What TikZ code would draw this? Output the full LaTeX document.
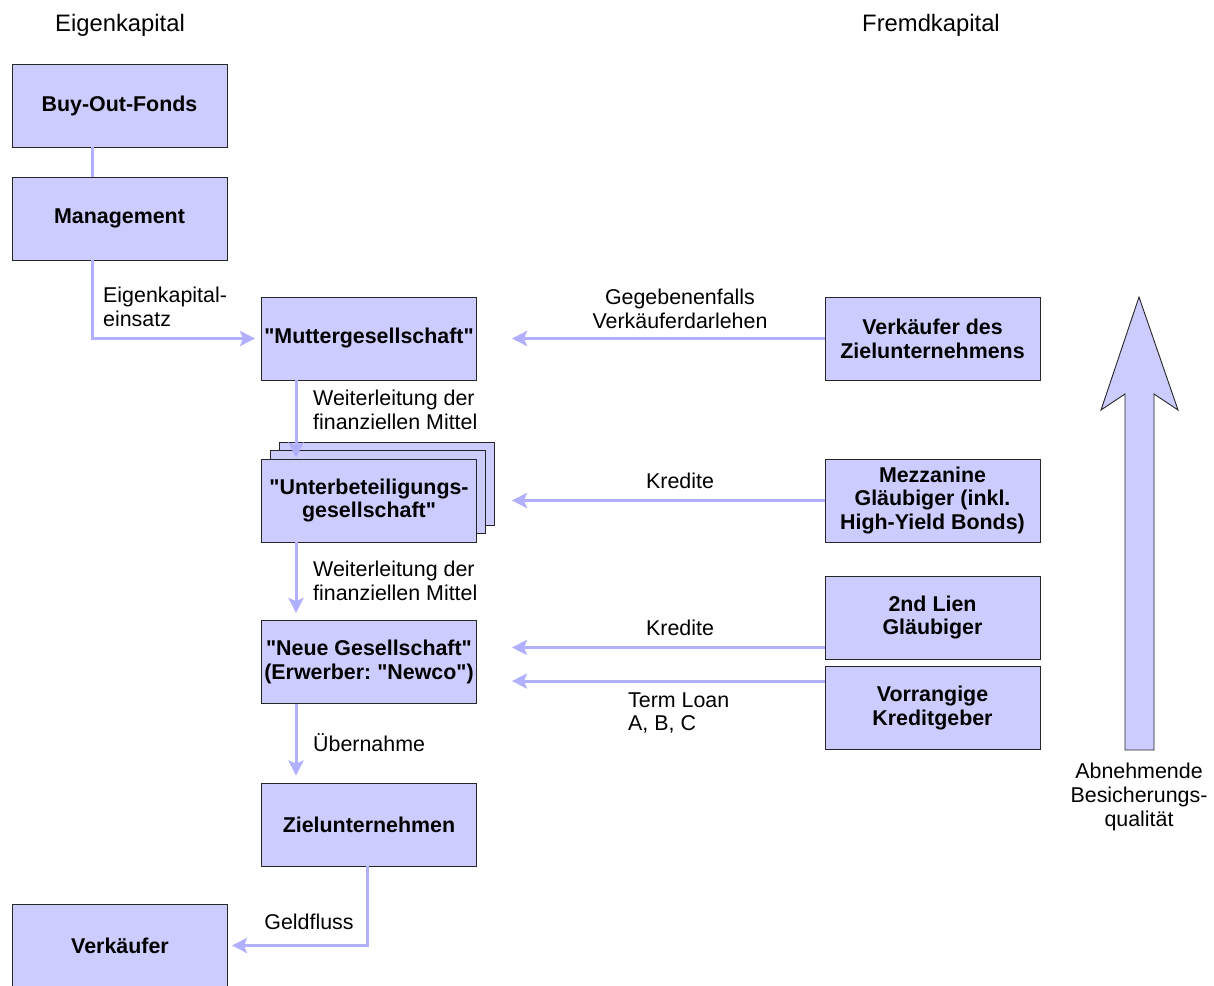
\documentclass[tikz,border=0pt]{standalone}
\usepackage{fontspec}
\setmainfont{Liberation Sans}
\usetikzlibrary{arrows.meta,positioning}

\definecolor{boxfill}{HTML}{CCCCFF}
\definecolor{flow}{HTML}{B0B0FF}
\newcommand{\qq}{\textquotedbl}

\tikzset{
  box/.style={draw=black!85,line width=.9pt,fill=boxfill,minimum width=215pt,
    minimum height=83pt,inner sep=0pt,align=center,font=\bfseries},
  link/.style={draw=flow,line width=3pt,-{Stealth[length=15pt,width=15pt,inset=3pt]}},
  plain/.style={draw=flow,line width=3pt},
  lbl/.style={inner sep=0pt,align=left,anchor=west},
  clbl/.style={inner sep=0pt,align=center},
  head/.style={inner sep=0pt,font=\fontsize{23.8}{28}\selectfont}
}

\begin{document}
\frenchspacing
\fontsize{21.4}{23.8}\selectfont
\begin{tikzpicture}[x=1pt,y=-1pt]
        \useasboundingbox (0,0) rectangle (1214,985);

        % Headings
        \node[head] (ek) at (120,25) {Eigenkapital};
        \node[head] (fk) at (931,25) {Fremdkapital};

        % Equity side
        \node[box] (fonds) at (119.5,105.5) {Buy-Out-Fonds};
        \node[box] (mgmt)  at (119.5,218.5) {Management};
        \coordinate (colA) at (92,0);
        \coordinate (colB) at (296,0);
        \coordinate (colC) at (367,0);

        % Acquisition chain
        \node[box] (mutter) at (369,338.5) {\qq Muttergesellschaft\qq};
        \foreach \k in {2,1} {
          \node[box] (unter\k) at (369+9*\k,500.5-8.3*\k) {};
        }
        \node[box] (unter)  at (369,500.5) {\qq Unterbeteiligungs-\\gesellschaft\qq};
        \node[box] (newco)  at (369,662) {\qq Neue Gesellschaft\qq\\(Erwerber: \qq Newco\qq)};
        \node[box] (ziel)   at (369,824.5) {Zielunternehmen};
        \node[box] (vk)     at (120,945.5) {Verkäufer};

        % Debt side
        \node[box] (vdz)    at (932.5,338.5) {Verkäufer des\\Zielunternehmens};
        \node[box] (mezz)   at (932.5,500.5) {Mezzanine\\Gläubiger (inkl.\\High-Yield Bonds)};
        \node[box] (lien)   at (932.5,617.5) {2nd Lien\\Gläubiger};
        \node[box] (senior) at (932.5,708) {Vorrangige\\Kreditgeber};
        \path (lien.south west) ++(0,-12) coordinate (lienout);
        \path (senior.north west) ++(0,15) coordinate (seniorout);

        % Flows
        \draw[plain] (fonds.south -| colA) -- (mgmt.north -| colA);
        \draw[link,shorten >=6pt] (mgmt.south -| colA) |- (mutter.west);
        \draw[link,shorten >=1pt] (mutter.south -| colB) -- (unter.north -| colB);
        \draw[link,shorten >=7pt] (unter.south -| colB) -- (newco.north -| colB);
        \draw[link,shorten >=7pt] (newco.south -| colB) -- (ziel.north -| colB);
        \draw[link,shorten >=4pt] (ziel.south -| colC) |- (vk.east);

        \draw[link,shorten >=35pt] (vdz.west) -- (vdz.west -| mutter.east);
        \draw[link,shorten >=35pt] (mezz.west) -- (mezz.west -| unter.east);
        \draw[link,shorten >=35pt] (lienout) -- (lienout -| newco.east);
        \draw[link,shorten >=35pt] (seniorout) -- (seniorout -| newco.east);

        % Labels
        \node[lbl]  (l1) at (103,306.5) {Eigenkapital-\\einsatz};
        \node[clbl] (l2) at (680,309) {Gegebenenfalls\\Verkäuferdarlehen};
        \node[lbl]  (l3) at (313,409.5) {Weiterleitung der\\finanziellen Mittel};
        \node[clbl] (l4) at (680,481) {Kredite};
        \node[lbl]  (l5) at (313,581) {Weiterleitung der\\finanziellen Mittel};
        \node[clbl] (l6) at (680,628) {Kredite};
        \node[lbl]  (l7) at (628,713) {Term Loan\\A, B, C};
        \node[lbl]  (l8) at (313,743) {Übernahme};
        \node[clbl] (l9) at (309,922) {Geldfluss};

        % Security quality arrow
        \draw[fill=boxfill,draw=black!85,line width=.9pt]
          (1125,750) -- (1125,394) -- (1101,410) -- (1139,297) -- (1178,410)
          -- (1154,394) -- (1154,750) -- cycle;
        \node[clbl] (l10) at (1139,797) {Abnehmende\\Besicherungs-\\qualität};
\end{tikzpicture}
\end{document}
